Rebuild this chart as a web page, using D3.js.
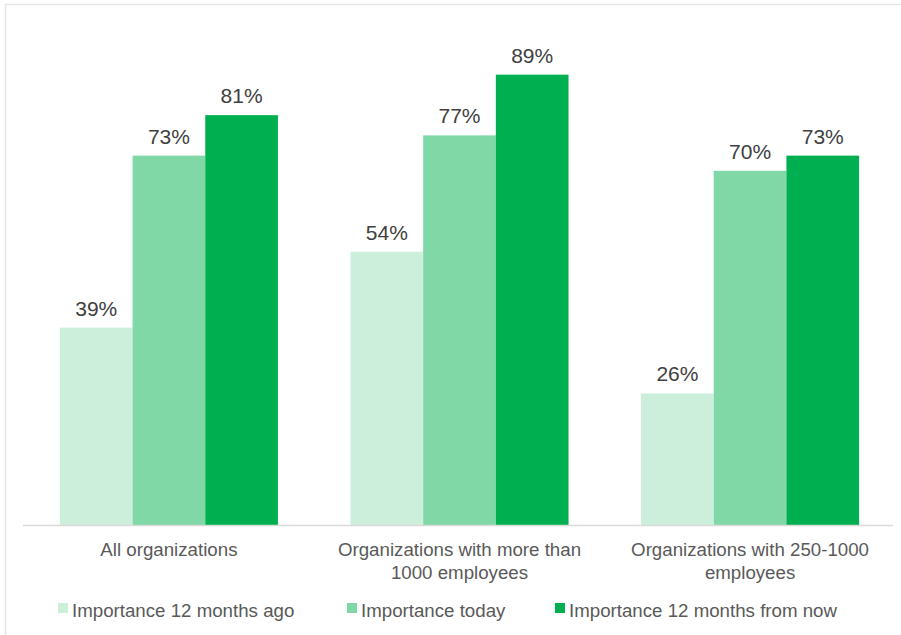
<!DOCTYPE html>
<html><head><meta charset="utf-8">
<script src="https://cdn.jsdelivr.net/npm/d3@7"></script>
<style>body{margin:0;background:#fff;}svg{display:block;}</style>
</head><body>
<svg id="c" width="901" height="635"></svg>
<script>
const categories = [["All organizations"], ["Organizations with more than", "1000 employees"], ["Organizations with 250-1000", "employees"]];
const seriesNames = ["Importance 12 months ago", "Importance today", "Importance 12 months from now"];
const ago = [39, 54, 26];
const today = [73, 77, 70];
const future = [81, 89, 73];
const colors = ["#ccefdc", "#80d8a6", "#00b050"];
const seriesValues = [ago, today, future];

const svg = d3.select("#c");
const font = "'Liberation Sans', Arial, sans-serif";

// border
svg.append("rect").attr("x",5.5).attr("y",4.5).attr("width",900).attr("height",640)
  .attr("fill","none").attr("stroke","#e6e6e6").attr("stroke-width",1.5);

const baseline = 525;
const x0 = d3.scaleBand().domain(d3.range(categories.length)).range([23, 896]).paddingInner(0.2496).paddingOuter(0.127);
const x1 = d3.scaleBand().domain(d3.range(seriesNames.length)).range([0, x0.bandwidth()]);
const y = d3.scaleLinear().domain([0, 100]).range([baseline, 19]);

const g = svg.append("g");
categories.forEach((c, i) => {
  seriesValues.forEach((vals, s) => {
    const v = vals[i];
    g.append("rect")
      .attr("x", x0(i) + x1(s)).attr("y", y(v))
      .attr("width", x1.bandwidth()).attr("height", y(0) - y(v))
      .attr("fill", colors[s]);
    g.append("text")
      .attr("x", x0(i) + x1(s) + x1.bandwidth()/2).attr("y", y(v) - 12)
      .attr("text-anchor","middle").attr("font-family", font).attr("font-size", 21)
      .attr("fill", "#404040").text(v + "%");
  });
});

// axis
const axis = svg.append("g").attr("transform", `translate(0,${baseline})`)
  .call(d3.axisBottom(x0).tickSize(0).tickFormat(""));
axis.select(".domain").attr("stroke", "#d9d9d9").attr("stroke-width", 1.3)
  .attr("d", "M23,0.5H893");

categories.forEach((lines, i) => {
  const cx = x0(i) + x0.bandwidth()/2;
  const t = svg.append("text").attr("x", cx).attr("y", 556)
    .attr("text-anchor","middle").attr("font-family", font).attr("font-size", 18.7).attr("fill", "#595959");
  lines.forEach((l, k) => t.append("tspan").attr("x", cx).attr("dy", k ? 23 : 0).text(l));
});

// legend
const legX = [58, 347, 555];
seriesNames.forEach((n, s) => {
  svg.append("rect").attr("x", legX[s]).attr("y", 603).attr("width", 10).attr("height", 10).attr("fill", colors[s]);
  svg.append("text").attr("x", legX[s] + 14).attr("y", 617).attr("font-family", font).attr("font-size", 18.7)
    .attr("fill", "#595959").text(n);
});
</script>
</body></html>
